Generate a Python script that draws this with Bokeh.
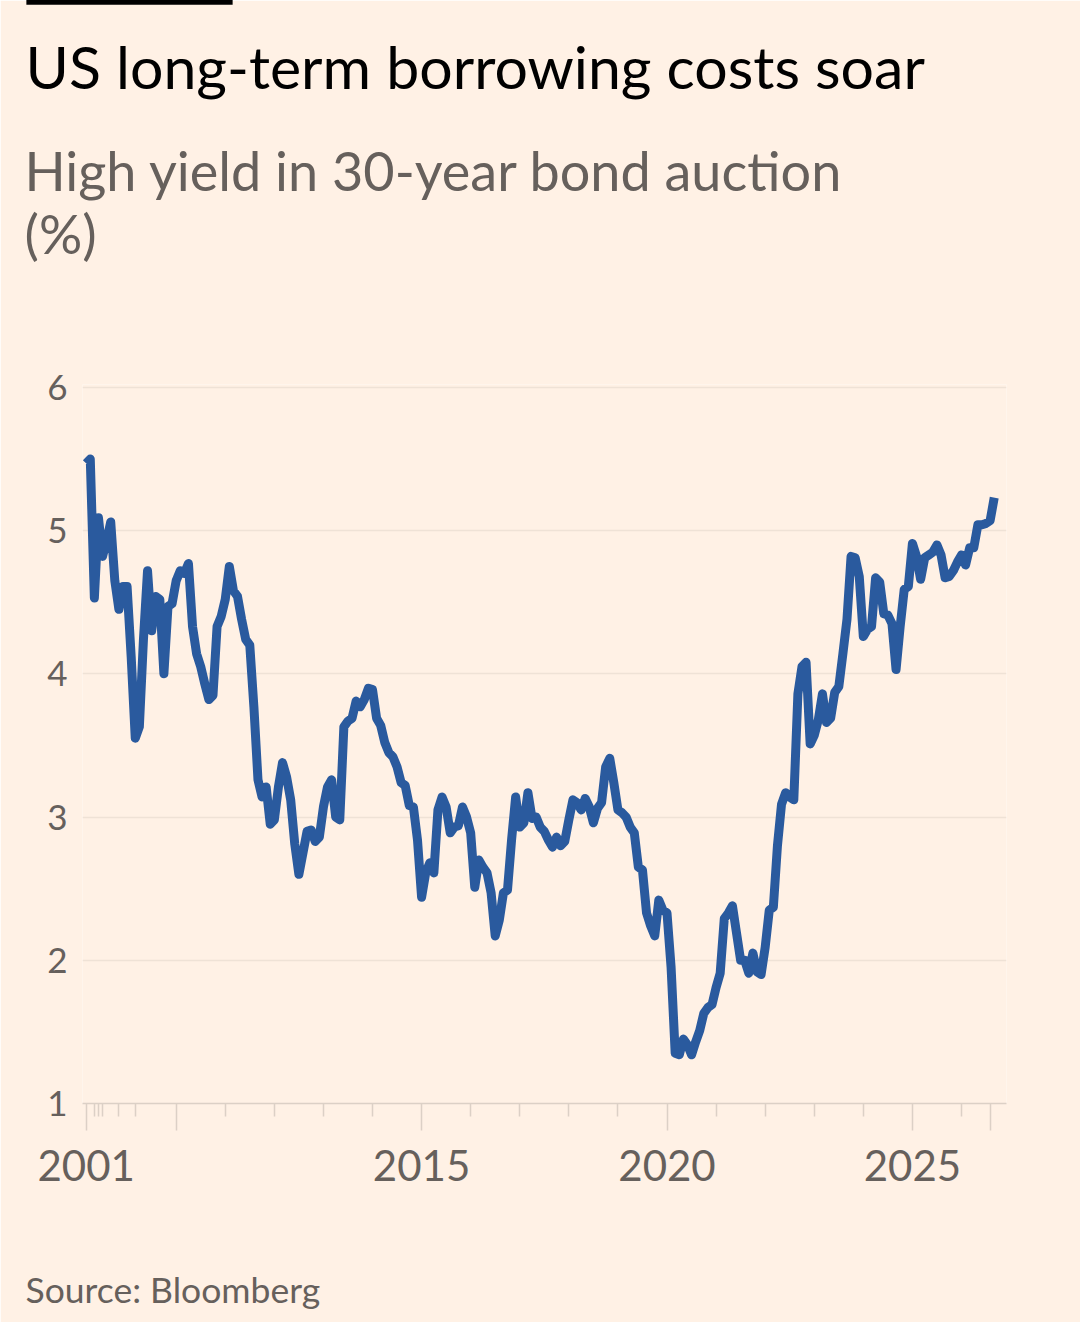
from bokeh.plotting import figure
from bokeh.models import FixedTicker, Label, Range1d, ColumnDataSource
from bokeh.embed import file_html
from bokeh.resources import INLINE

# High yield (%) at each 30-year US Treasury bond auction, in auction order
yields_2001_2009 = [5.47, 5.50, 4.53, 5.09, 4.82, 4.93, 5.06, 4.65, 4.45, 4.61,
                    4.61, 4.12, 3.55, 3.63, 4.24, 4.72, 4.30, 4.54, 4.52, 4.00,
                    4.47, 4.49]
yields_2010_2014 = [4.65, 4.72, 4.70, 4.77, 4.33, 4.14, 4.05, 3.93, 3.82, 3.85,
                    4.33, 4.40, 4.52, 4.75, 4.58, 4.54, 4.38, 4.24, 4.20, 3.77,
                    3.26, 3.14, 3.21, 2.95, 2.98, 3.21, 3.38, 3.28, 3.12, 2.81,
                    2.60, 2.75, 2.90, 2.91, 2.83, 2.86, 3.07, 3.21, 3.26, 3.00,
                    2.98, 3.63, 3.67, 3.69, 3.81, 3.77, 3.82, 3.90, 3.89, 3.69,
                    3.64, 3.52, 3.45, 3.42, 3.35, 3.24, 3.22, 3.08, 3.07, 2.84]
yields_2015_2019 = [2.44, 2.61, 2.68, 2.61, 3.05, 3.14, 3.07, 2.89, 2.93, 2.94,
                    3.07, 3.00, 2.89, 2.51, 2.70, 2.65, 2.61, 2.47, 2.17, 2.28,
                    2.47, 2.49, 2.84, 3.14, 2.93, 2.96, 3.17, 2.99, 3.00, 2.93,
                    2.90, 2.84, 2.79, 2.86, 2.80, 2.83, 2.98, 3.12, 3.10, 3.05,
                    3.13, 3.07, 2.96, 3.06, 3.10, 3.35, 3.41, 3.24, 3.05, 3.03,
                    3.00, 2.93, 2.89, 2.65, 2.63, 2.33, 2.24, 2.17, 2.42, 2.35]
yields_2020_2024 = [2.33, 1.95, 1.35, 1.34, 1.45, 1.41, 1.34, 1.43, 1.51, 1.63,
                    1.67, 1.69, 1.81, 1.91, 2.29, 2.33, 2.38, 2.19, 2.00, 2.00,
                    1.91, 2.05, 1.92, 1.90, 2.09, 2.35, 2.37, 2.80, 3.09, 3.17,
                    3.14, 3.12, 3.86, 4.05, 4.08, 3.51, 3.57, 3.68, 3.86, 3.66,
                    3.69, 3.87, 3.91, 4.14, 4.38, 4.82, 4.81, 4.68, 4.26, 4.31,
                    4.33, 4.67, 4.64, 4.42, 4.41, 4.35, 4.03, 4.33, 4.59, 4.61]
yields_2025_on = [4.91, 4.82, 4.66, 4.81, 4.83, 4.85, 4.90, 4.83, 4.67, 4.68,
                  4.72, 4.78, 4.83, 4.76, 4.88, 4.88, 5.04, 5.04, 5.05, 5.07,
                  5.23]

# Axis ticks (auction index at which each year starts)
major_tick_index = [0, 22, 82, 142, 202, 221]
major_tick_labels = ["2001", "", "2015", "2020", "2025", ""]
minor_tick_index = [2, 3, 4, 8, 12, 34, 46, 58, 70, 94, 106, 118, 130,
                    154, 166, 178, 190, 214]
y_ticks = [1, 2, 3, 4, 5, 6]
y_grid = [2, 3, 4, 5, 6]

title_text = "US long-term borrowing costs soar"
subtitle_lines = ["High yield in 30-year bond auction", "(%)"]
source_text = "Source: Bloomberg"

yields = yields_2001_2009 + yields_2010_2014 + yields_2015_2019 + yields_2020_2024 + yields_2025_on
src = ColumnDataSource(data=dict(idx=list(range(len(yields))), yld=yields))

BG = "#FFF1E5"
GREY = "#66605C"
FONT = "Lato"
W, H = 1080, 1322
FRAME_LEFT, FRAME_TOP, FRAME_BOTTOM, FRAME_RIGHT = 82, 384, 1103, 1006

p = figure(width=W, height=H, output_backend="svg", toolbar_location=None,
           x_range=Range1d(-0.9, 225.0), y_range=Range1d(1, 6.02),
           min_border_left=FRAME_LEFT, min_border_right=W - FRAME_RIGHT,
           min_border_top=FRAME_TOP, min_border_bottom=H - FRAME_BOTTOM)
p.background_fill_color = BG
p.border_fill_color = BG
p.outline_line_color = None

p.line(x="idx", y="yld", source=src, line_width=9, line_color="#2A5A9E",
       line_join="round", line_cap="butt")

xa = p.xaxis[0]
xa.ticker = FixedTicker(ticks=major_tick_index, minor_ticks=minor_tick_index)
xa.major_label_overrides = {t: l for t, l in zip(major_tick_index, major_tick_labels)}
xa.axis_line_color = "#DCD0C6"
xa.axis_line_width = 1.5
xa.major_tick_line_color = "#DCD0C6"
xa.major_tick_line_width = 1.5
xa.minor_tick_line_color = "#DCD0C6"
xa.minor_tick_line_width = 1.5
xa.major_tick_in = 0
xa.major_tick_out = 27
xa.minor_tick_in = 0
xa.minor_tick_out = 13
xa.major_label_standoff = 19
xa.major_label_text_font = FONT
xa.major_label_text_font_size = "42px"
xa.major_label_text_color = GREY

ya = p.yaxis[0]
ya.ticker = FixedTicker(ticks=y_ticks)
ya.axis_line_color = None
ya.major_tick_line_color = None
ya.minor_tick_line_color = None
ya.major_tick_in = 0
ya.major_tick_out = 0
ya.major_label_standoff = 15
ya.major_label_text_font = FONT
ya.major_label_text_font_size = "35px"
ya.major_label_text_color = GREY

p.xgrid.grid_line_color = None
p.ygrid.ticker = FixedTicker(ticks=y_grid)
p.ygrid.grid_line_color = "#EFE2D6"
p.ygrid.grid_line_width = 1.3


# Texts live in stacked "above" side panels (not clipped to the frame).
# x is measured from the frame's left edge; y upward from each panel's bottom,
# whose position was found empirically (the anchor value below).
def add_text(text, page_x, page_baseline, anchor, size, color):
    p.add_layout(Label(x=page_x - FRAME_LEFT, y=anchor - page_baseline,
                       x_units="screen", y_units="screen",
                       text=text, text_font=FONT, text_font_size=size,
                       text_color=color, text_baseline="alphabetic",
                       text_align="left"), "above")


add_text(title_text, 25, 89, 407, "59px", "#000000")
add_text(subtitle_lines[0], 24, 193, 336, "54px", GREY)
add_text(subtitle_lines[1], 24, 252, 267, "54px", GREY)
add_text(source_text, 25, 1303, 197, "35.5px", GREY)

# short black rule at the very top of the page
try:
    bar = Label(x=129 - FRAME_LEFT, y=141, x_units="screen", y_units="screen",
                text=" ", text_font=FONT, text_font_size="1px",
                text_align="center", text_baseline="top",
                background_fill_color="#000000", background_fill_alpha=1.0,
                padding=(103, 2))
    p.add_layout(bar, "above")
except Exception:
    pass

open("out.html", "w").write(file_html(p, INLINE))
